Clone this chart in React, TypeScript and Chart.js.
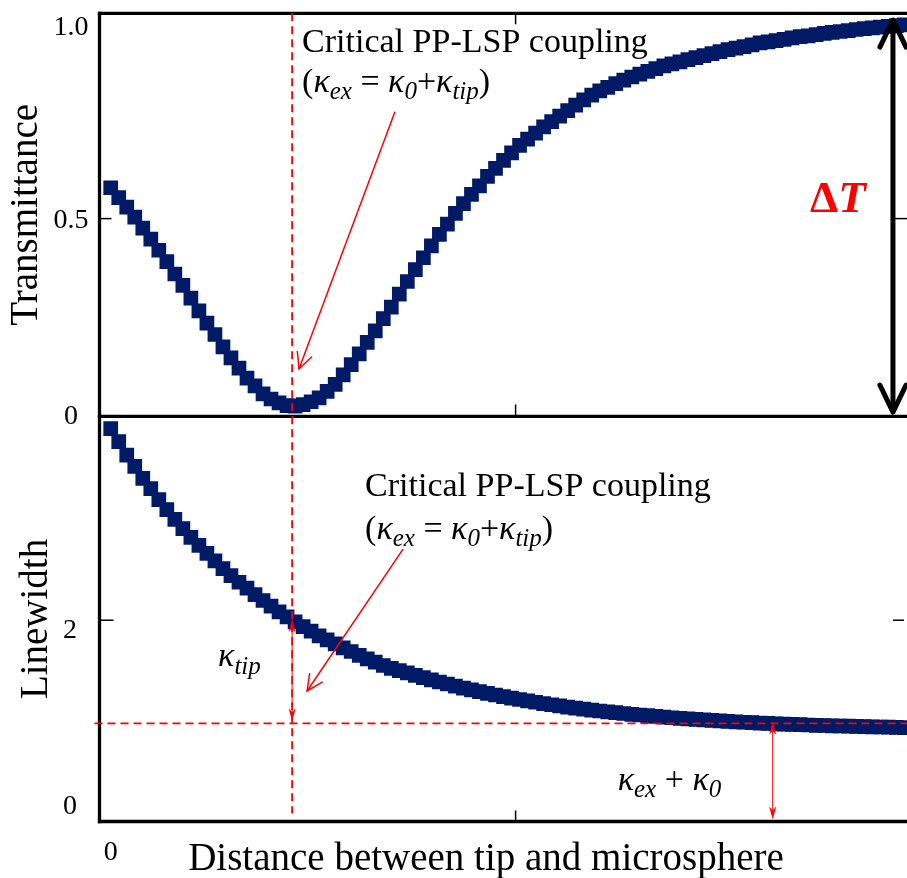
import { useEffect, useRef } from 'react';
import { Chart, registerables } from 'chart.js';

Chart.register(...registerables);

// ---- data ----
const TRANSMITTANCE = [
  0.578, 0.553, 0.529, 0.504, 0.476, 0.448, 0.420, 0.391, 0.360, 0.331,
  0.299, 0.267, 0.236, 0.207, 0.176, 0.148, 0.122, 0.097, 0.077, 0.057,
  0.044, 0.034, 0.027, 0.026, 0.030, 0.037, 0.047, 0.063, 0.081, 0.105,
  0.131, 0.158, 0.187, 0.216, 0.247, 0.276, 0.309, 0.341, 0.371, 0.401,
  0.431, 0.460, 0.486, 0.513, 0.538, 0.561, 0.583, 0.607, 0.627, 0.647,
  0.666, 0.685, 0.701, 0.716, 0.732, 0.745, 0.759, 0.773, 0.787, 0.800,
  0.812, 0.823, 0.832, 0.841, 0.850, 0.858, 0.865, 0.872, 0.879, 0.886,
  0.891, 0.896, 0.902, 0.907, 0.912, 0.917, 0.922, 0.927, 0.931, 0.935,
  0.939, 0.944, 0.947, 0.950, 0.953, 0.957, 0.960, 0.962, 0.965, 0.968,
  0.971, 0.973, 0.975, 0.978, 0.980, 0.982, 0.984, 0.986, 0.988, 0.990,
];

const LINEWIDTH = [
  3.903, 3.774, 3.641, 3.529, 3.409, 3.307, 3.198, 3.099, 3.002, 2.910,
  2.824, 2.744, 2.665, 2.589, 2.513, 2.444, 2.377, 2.318, 2.255, 2.196,
  2.139, 2.082, 2.033, 1.983, 1.937, 1.891, 1.844, 1.804, 1.765, 1.725,
  1.689, 1.650, 1.616, 1.583, 1.550, 1.521, 1.500, 1.476, 1.452, 1.429,
  1.407, 1.386, 1.366, 1.346, 1.326, 1.308, 1.290, 1.273, 1.257, 1.241,
  1.226, 1.212, 1.198, 1.185, 1.172, 1.160, 1.148, 1.137, 1.126, 1.116,
  1.107, 1.098, 1.089, 1.081, 1.073, 1.065, 1.058, 1.051, 1.044, 1.038,
  1.031, 1.025, 1.019, 1.014, 1.009, 1.004, 0.999, 0.994, 0.990, 0.986,
  0.982, 0.978, 0.975, 0.971, 0.968, 0.965, 0.962, 0.959, 0.956, 0.954,
  0.951, 0.949, 0.947, 0.945, 0.943, 0.941, 0.939, 0.937, 0.935, 0.933,
];

// sampling grid of the distance axis (arbitrary units)
const DISTANCE_STEP = 0.0198;
const DISTANCE = TRANSMITTANCE.map((_, i) => +(i * DISTANCE_STEP).toFixed(4));

const X_TICKS = [0];
const X_TICK_LABELS = ['0'];
const X_INNER_TICKS = [1];
const T_TICKS = [0, 0.5, 1.0];
const T_TICK_LABELS = ['0', '0.5', '1.0'];
const T_INNER_TICKS = [0.5];
const L_TICKS = [0, 2];
const L_TICK_LABELS = ['0', '2'];
const L_INNER_TICKS = [2];

// annotation anchors (data units)
const CRITICAL_X = 0.448;
const BASELINE_LW = 0.975;
const KAPPA_SUM_X = 1.635;
const DELTA_T_X = 1.932;

const FONT = '"Liberation Serif", "Times New Roman", serif';
const NAVY = '#001a66';
const RED = '#ff0000';

type Run = { t: string; it?: boolean; b?: boolean; sub?: boolean };

function drawRuns(ctx: CanvasRenderingContext2D, runs: Run[], x: number, y: number, size: number, subSize: number, subDy: number) {
  let cx = x;
  for (const r of runs) {
    const s = r.sub ? subSize : size;
    ctx.font = `${r.it ? 'italic ' : ''}${r.b ? 'bold ' : ''}${s}px ${FONT}`;
    ctx.fillText(r.t, cx, r.sub ? y + subDy : y);
    cx += ctx.measureText(r.t).width;
  }
}

function seg(ctx: CanvasRenderingContext2D, x1: number, y1: number, x2: number, y2: number) {
  ctx.beginPath();
  ctx.moveTo(x1, y1);
  ctx.lineTo(x2, y2);
  ctx.stroke();
}

function openHead(ctx: CanvasRenderingContext2D, fx: number, fy: number, tx: number, ty: number, len: number, ang: number) {
  const a = Math.atan2(ty - fy, tx - fx);
  ctx.beginPath();
  ctx.moveTo(tx - len * Math.cos(a - ang), ty - len * Math.sin(a - ang));
  ctx.lineTo(tx, ty);
  ctx.lineTo(tx - len * Math.cos(a + ang), ty - len * Math.sin(a + ang));
  ctx.stroke();
}

function filledHead(ctx: CanvasRenderingContext2D, fx: number, fy: number, tx: number, ty: number, len: number, half: number) {
  const a = Math.atan2(ty - fy, tx - fx);
  const bx = tx - len * Math.cos(a);
  const by = ty - len * Math.sin(a);
  const nx = -Math.sin(a) * half;
  const ny = Math.cos(a) * half;
  ctx.beginPath();
  ctx.moveTo(tx, ty);
  ctx.lineTo(bx + nx, by + ny);
  ctx.lineTo(tx - len * 0.7 * Math.cos(a), ty - len * 0.7 * Math.sin(a));
  ctx.lineTo(bx - nx, by - ny);
  ctx.closePath();
  ctx.fill();
}

const KAPPA_LINE: Run[] = [
  { t: '(' },
  { t: 'κ', it: true },
  { t: 'ex', it: true, sub: true },
  { t: ' = ' },
  { t: 'κ', it: true },
  { t: '0', it: true, sub: true },
  { t: '+' },
  { t: 'κ', it: true },
  { t: 'tip', it: true, sub: true },
  { t: ')' },
];

const overlay = {
  id: 'overlay',
  afterDatasetsDraw(chart: any) {
    const { ctx, chartArea: ca, scales } = chart;
    const xs = scales.x;
    const yT = scales.yT;
    const yL = scales.yL;
    const px = (v: number) => xs.getPixelForValue(v);
    const pT = (v: number) => yT.getPixelForValue(v);
    const pL = (v: number) => yL.getPixelForValue(v);
    ctx.save();

    // frame (right side lies outside the picture)
    ctx.strokeStyle = '#000';
    ctx.lineWidth = 3.3;
    seg(ctx, ca.left - 1.65, yT.top, ca.right + 4, yT.top);
    seg(ctx, ca.left - 1.65, yT.bottom, ca.right + 4, yT.bottom);
    seg(ctx, ca.left - 1.65, yL.bottom, ca.right + 4, yL.bottom);
    seg(ctx, ca.left, yT.top - 1.65, ca.left, yL.bottom + 1.65);

    // inward tick marks
    ctx.lineWidth = 1.5;
    for (const v of T_INNER_TICKS) {
      seg(ctx, ca.left, pT(v), ca.left + 12, pT(v));
      seg(ctx, ca.right - 12, pT(v), ca.right, pT(v));
    }
    for (const v of L_INNER_TICKS) {
      seg(ctx, ca.left, pL(v), ca.left + 14, pL(v));
      seg(ctx, ca.right - 14, pL(v), ca.right - 3, pL(v));
    }
    for (const v of X_INNER_TICKS) {
      seg(ctx, px(v), yT.top, px(v), yT.top + 11);
      seg(ctx, px(v), yT.bottom, px(v), yT.bottom - 12);
      seg(ctx, px(v), yL.bottom, px(v), yL.bottom - 11);
    }

    // red dashed guide lines
    ctx.strokeStyle = RED;
    ctx.lineWidth = 1.8;
    ctx.setLineDash([8, 5]);
    seg(ctx, px(CRITICAL_X), yT.top, px(CRITICAL_X), pL(0.08));
    seg(ctx, ca.left - 5, pL(BASELINE_LW), ca.right, pL(BASELINE_LW));
    ctx.setLineDash([]);

    // "critical coupling" arrows
    ctx.lineWidth = 1.5;
    {
      const x1 = px(0.702), y1 = pT(0.770), x2 = px(0.465), y2 = pT(0.120);
      seg(ctx, x1, y1, x2, y2);
      openHead(ctx, x1, y1, x2, y2, 18, 0.45);
    }
    {
      const x1 = px(0.722), y1 = pL(2.707), x2 = px(0.485), y2 = pL(1.297);
      seg(ctx, x1, y1, x2, y2);
      openHead(ctx, x1, y1, x2, y2, 18, 0.45);
    }

    // kappa double arrows
    ctx.fillStyle = RED;
    ctx.lineWidth = 1;
    {
      const x = px(CRITICAL_X), ya = pL(2.01), yb = pL(0.995);
      seg(ctx, x, ya + 6, x, yb - 6);
      filledHead(ctx, x, yb, x, ya, 13, 3.5);
      filledHead(ctx, x, ya, x, yb, 13, 3.5);
    }
    {
      const x = px(KAPPA_SUM_X), ya = pL(0.99), yb = pL(0.02);
      seg(ctx, x, ya + 6, x, yb - 6);
      filledHead(ctx, x, yb, x, ya, 13, 3.5);
      filledHead(ctx, x, ya, x, yb, 13, 3.5);
    }

    // Delta T double arrow
    ctx.strokeStyle = '#000';
    ctx.lineWidth = 5;
    ctx.lineCap = 'round';
    ctx.lineJoin = 'round';
    {
      const x = px(DELTA_T_X), ya = pT(1.002), yb = pT(0.011);
      seg(ctx, x, ya + 2, x, yb - 2);
      openHead(ctx, x, yb, x, ya, 30, 0.45);
      openHead(ctx, x, ya, x, yb, 30, 0.45);
    }
    ctx.lineCap = 'butt';

    // texts
    ctx.textAlign = 'left';
    ctx.textBaseline = 'alphabetic';
    ctx.fillStyle = '#000';
    const cx = px(CRITICAL_X);
    ctx.font = `34px ${FONT}`;
    ctx.fillText('Critical PP-LSP coupling', cx + 10, yT.top + 38.5);
    drawRuns(ctx, KAPPA_LINE, cx + 10, yT.top + 78.5, 34, 25, 7);
    ctx.font = `34px ${FONT}`;
    ctx.fillText('Critical PP-LSP coupling', cx + 73, yL.top + 79.6);
    drawRuns(ctx, KAPPA_LINE, cx + 73, yL.top + 122.6, 34, 25, 7);

    drawRuns(ctx, [{ t: 'κ', it: true }, { t: 'tip', it: true, sub: true }], cx - 74, pL(1.545), 34, 25, 8);
    drawRuns(ctx, [
      { t: 'κ', it: true },
      { t: 'ex', it: true, sub: true },
      { t: ' + ' },
      { t: 'κ', it: true },
      { t: '0', it: true, sub: true },
    ], px(KAPPA_SUM_X) - 155, pL(0.313), 34, 25, 7);

    ctx.fillStyle = RED;
    drawRuns(ctx, [{ t: 'Δ', b: true }, { t: 'T', b: true, it: true }], px(DELTA_T_X) - 83, pT(0.517), 45, 45, 0);

    // x axis title
    ctx.fillStyle = '#000';
    ctx.textAlign = 'center';
    ctx.font = `39px ${FONT}`;
    ctx.fillText('Distance between tip and microsphere', ca.left + 386.5, yL.bottom + 48.5);

    ctx.restore();
  },
};

function labelFrom(values: number[], labels: string[], shifts?: number[]) {
  return (v: any) => {
    const i = values.findIndex((t) => Math.abs(t - Number(v)) < 1e-9);
    if (i < 0) return '';
    const s = shifts ? shifts[i] : 0;
    if (s > 0.5) return ['', labels[i]];
    if (s < -0.5) return [labels[i], ''];
    return labels[i];
  };
}

function yAxis(title: string, ticks: number[], labels: string[], max: number, weight: number, titlePad: number, labelPad: number, shifts: number[]) {
  return {
    type: 'linear' as const,
    position: 'left' as const,
    stack: 'panels',
    stackWeight: weight,
    min: 0,
    max,
    grid: { display: false, drawTicks: false },
    border: { display: false },
    afterBuildTicks: (s: any) => {
      s.ticks = ticks.map((v) => ({ value: v }));
    },
    afterFit: (s: any) => {
      s.width = 99.5;
      s.paddingTop = 0;
      s.paddingBottom = 0;
    },
    ticks: {
      callback: labelFrom(ticks, labels, shifts),
      font: (c: any) => {
        const i = ticks.findIndex((t) => Math.abs(t - Number(c.tick?.value)) < 1e-9);
        const s = i >= 0 ? Math.abs(shifts[i]) : 0;
        return { family: FONT, size: 28, lineHeight: s > 0.5 ? `${2 * s}px` : 1.2 };
      },
      color: '#000',
      padding: labelPad,
      crossAlign: 'center' as const,
      autoSkip: false,
    },
    title: {
      display: true,
      text: title,
      color: '#000',
      font: { family: FONT, size: 39 },
      padding: { top: titlePad, bottom: 0 },
    },
  };
}

export default function App() {
  const ref = useRef<HTMLCanvasElement | null>(null);

  useEffect(() => {
    if (!ref.current) return;
    const pointStyle = {
      showLine: false,
      pointStyle: 'rect' as const,
      pointRadius: 10.4,
      pointHoverRadius: 10.4,
      pointBackgroundColor: NAVY,
      pointBorderColor: NAVY,
      pointBorderWidth: 0,
      backgroundColor: NAVY,
      borderColor: NAVY,
    };
    const chart = new Chart(ref.current, {
      type: 'scatter',
      data: {
        datasets: [
          {
            label: 'Transmittance',
            data: DISTANCE.map((d, i) => ({ x: d, y: TRANSMITTANCE[i] })),
            yAxisID: 'yT',
            ...pointStyle,
          },
          {
            label: 'Linewidth',
            data: DISTANCE.map((d, i) => ({ x: d, y: LINEWIDTH[i] })),
            yAxisID: 'yL',
            ...pointStyle,
          },
        ],
      },
      options: {
        responsive: false,
        animation: false,
        devicePixelRatio: 1,
        layout: { autoPadding: false, padding: { top: 13.3, left: 0, right: 0, bottom: 0 } },
        plugins: { legend: { display: false }, tooltip: { enabled: false } },
        scales: {
          x: {
            type: 'linear',
            position: 'bottom',
            min: -0.0277,
            max: 1.9667,
            grid: { display: false, drawTicks: false },
            border: { display: false },
            afterBuildTicks: (s: any) => {
              s.ticks = X_TICKS.map((v) => ({ value: v }));
            },
            afterFit: (s: any) => {
              s.height = 56.5;
              s.paddingLeft = 0;
              s.paddingRight = 0;
            },
            ticks: {
              callback: labelFrom(X_TICKS, X_TICK_LABELS),
              font: { family: FONT, size: 28 },
              color: '#000',
              padding: 14,
              maxRotation: 0,
              autoSkip: false,
            },
            title: { display: false },
          },
          yL: yAxis('Linewidth', L_TICKS, L_TICK_LABELS, 4.025, 405.1, 13.4, 22.5, [-14.5, 10]),
          yT: yAxis('Transmittance', T_TICKS, T_TICK_LABELS, 1.019, 403.1, 3.4, 11, [0, 2, 6.5]),
        },
      } as any,
      plugins: [overlay],
    });
    return () => chart.destroy();
  }, []);

  return (
    <div style={{ position: 'fixed', left: 0, top: 0, width: 907, height: 878, background: '#fff' }}>
      <canvas ref={ref} width={907} height={878} style={{ display: 'block' }} />
    </div>
  );
}
